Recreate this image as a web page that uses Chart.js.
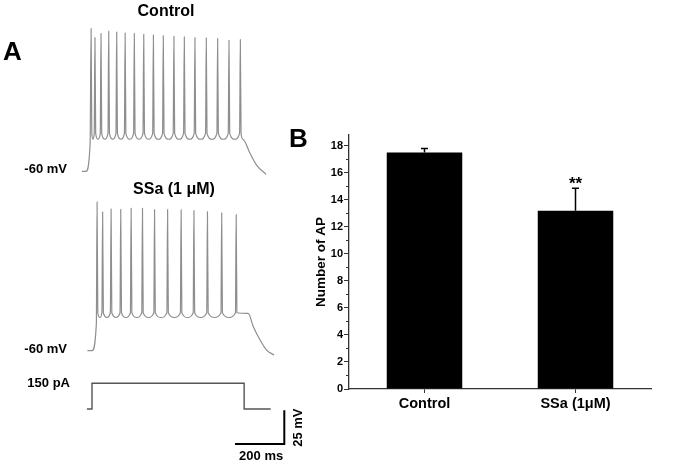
<!DOCTYPE html>
<html>
<head>
<meta charset="utf-8">
<script src="https://cdn.jsdelivr.net/npm/chart.js@4.4.1/dist/chart.umd.min.js"></script>
<style>
  html, body { margin: 0; padding: 0; background: #fff; }
  #wrap { position: relative; width: 675px; height: 463px; overflow: hidden; }
  #traceChart { position: absolute; left: 0; top: 0; }
  #barChart { position: absolute; left: 290px; top: 120px; }
</style>
</head>
<body>
<div id="wrap">
  <canvas id="traceChart" width="310" height="463"></canvas>
  <canvas id="barChart" width="385" height="343"></canvas>
</div>
<script>
// ---------- Panel B: number of action potentials ----------
const groups = ['Control', 'SSa (1μM)'];
const apMean = [17.5, 13.2];
const apSem = [0.3, 1.65];
const apSig = ['', '**'];
const apTicks = [0, 2, 4, 6, 8, 10, 12, 14, 16, 18];

// ---------- Panel A: current-clamp traces (ms from step onset, mV) ----------
const controlOnsetT = [-17, 0, 17];
const controlOnsetV = [-60, -60, -39];
const controlSpikeT = [21, 37, 62, 94, 127, 162, 200, 239, 279, 320, 364, 407, 451, 498, 545, 592, 639];
const controlSpikeV = [49.1, 42.2, 45.3, 47.0, 46.5, 45.7, 45.3, 44.7, 44.2, 43.6, 43.2, 42.7, 42.2, 41.9, 41.5, 40.2, 40.7];
const controlAhp = -35.5;
const controlTailT = [650, 679, 707, 745];
const controlTailV = [-35.5, -46.2, -55.4, -62.3];

const ssaOnsetT = [-19, 0, 18];
const ssaOnsetV = [-60, -60, -39.5];
const ssaSpikeT = [21, 44, 79, 119, 162, 209, 259, 313, 369, 422, 478, 537, 597];
const ssaSpikeV = [53.7, 46.0, 48.3, 48.0, 48.9, 48.9, 47.8, 48.0, 47.6, 47.2, 46.3, 45.3, 44.0];
const ssaAhp = -34.6;
const ssaTailT = [647, 668, 696, 723, 754];
const ssaTailV = [-31.4, -41.7, -51.8, -59.5, -63.3];

const spikeFoot = -31;

// injected current step (ms, pA)
const stimT = [-21, 0, 0, 630, 630, 740];
const stimI = [0, 0, 150, 150, 0, 0];

// scale bars
const barMs = 200;
const barMv = 25;

const FONT = "'Liberation Sans', Arial, Helvetica, sans-serif";
Chart.defaults.font.family = FONT;

// ---- layout of panel A (pixels of the figure) ----
const PX_PER_MS = 0.2415;
const PX_PER_MV = 1.308;
const PX_PER_PA = 0.1713;
const ONSET_PX = 92;          // stimulus onset
const CONTROL_SHIFT = -24.8;  // control trace drawn a little earlier
const H = 463, W = 310;
const ctrlBasePx = 171.3, ssaBasePx = 350.7, stimZeroPx = 409;

function mvRange(basePx) {
  const max = -60 + basePx / PX_PER_MV;
  return { min: max - H / PX_PER_MV, max: max };
}

function buildTrace(onT, onV, spT, spV, ahp, tailT, tailV, shift) {
  const pts = [];
  onT.forEach((t, i) => pts.push({ x: t + shift, y: onV[i] }));
  spT.forEach((t, i) => {
    if (i > 0) {
      pts.push({ x: (spT[i - 1] + t) / 2 + shift, y: ahp });
      pts.push({ x: t - 3 + shift, y: spikeFoot });
    }
    pts.push({ x: t + shift, y: spV[i] });
    pts.push({ x: t + 3 + shift, y: spikeFoot });
  });
  tailT.forEach((t, i) => pts.push({ x: t + shift, y: tailV[i] }));
  return pts;
}

const controlPts = buildTrace(controlOnsetT, controlOnsetV, controlSpikeT, controlSpikeV,
  controlAhp, controlTailT, controlTailV, CONTROL_SHIFT);
const ssaPts = buildTrace(ssaOnsetT, ssaOnsetV, ssaSpikeT, ssaSpikeV,
  ssaAhp, ssaTailT, ssaTailV, 0);
const stimPts = stimT.map((t, i) => ({ x: t, y: stimI[i] }));

// scale bar corner (figure px 284, 444) in trace units
const sbT = (284.3 - ONSET_PX) / PX_PER_MS;
const sbV = -60 - (444 - ssaBasePx) / PX_PER_MV;
const scaleBarPts = [
  { x: sbT - barMs, y: sbV },
  { x: sbT, y: sbV },
  { x: sbT, y: sbV + barMv }
];

const traceText = {
  id: 'traceText',
  afterDraw(chart) {
    const { ctx, scales } = chart;
    ctx.save();
    ctx.fillStyle = '#000';
    ctx.textBaseline = 'alphabetic';

    ctx.font = 'bold 26px ' + FONT;
    ctx.textAlign = 'left';
    ctx.fillText('A', 3, 60);

    ctx.font = 'bold 16px ' + FONT;
    ctx.textAlign = 'center';
    ctx.fillText('Control', 166, 16);
    ctx.fillText('SSa (1 μM)', 174, 194);

    ctx.font = 'bold 13px ' + FONT;
    ctx.textAlign = 'right';
    ctx.fillText('-60 mV', 67, scales.yC.getPixelForValue(-60) + 2);
    ctx.fillText('-60 mV', 67, scales.yS.getPixelForValue(-60) + 2);
    ctx.fillText('150 pA', 70, scales.yI.getPixelForValue(150) + 4);

    const bx0 = scales.x.getPixelForValue(sbT - barMs);
    const bx1 = scales.x.getPixelForValue(sbT);
    const by0 = scales.yS.getPixelForValue(sbV);
    const by1 = scales.yS.getPixelForValue(sbV + barMv);
    ctx.textAlign = 'center';
    ctx.fillText(barMs + ' ms', (bx0 + bx1) / 2 + 1, by0 + 16);

    ctx.translate(bx1 + 14, (by0 + by1) / 2);
    ctx.rotate(-Math.PI / 2);
    ctx.textBaseline = 'middle';
    ctx.fillText(barMv + ' mV', 0, 0);
    ctx.restore();
  }
};

const cr = mvRange(ctrlBasePx);
const sr = mvRange(ssaBasePx);
const iMax = stimZeroPx / PX_PER_PA;

new Chart(document.getElementById('traceChart'), {
  type: 'line',
  data: {
    datasets: [
      { data: controlPts, yAxisID: 'yC', borderColor: '#8e8e8e', borderWidth: 1.2,
        cubicInterpolationMode: 'monotone' },
      { data: ssaPts, yAxisID: 'yS', borderColor: '#8e8e8e', borderWidth: 1.2,
        cubicInterpolationMode: 'monotone' },
      { data: stimPts, yAxisID: 'yI', borderColor: '#555', borderWidth: 1.4, tension: 0 },
      { data: scaleBarPts, yAxisID: 'yS', borderColor: '#000', borderWidth: 2, tension: 0,
        borderCapStyle: 'square' }
    ]
  },
  options: {
    responsive: false,
    animation: false,
    events: [],
    layout: { padding: 0 },
    elements: { point: { radius: 0 } },
    plugins: { legend: { display: false }, tooltip: { enabled: false } },
    scales: {
      x: { type: 'linear', display: false,
           min: -ONSET_PX / PX_PER_MS, max: (W - ONSET_PX) / PX_PER_MS },
      yC: { display: false, min: cr.min, max: cr.max },
      yS: { display: false, min: sr.min, max: sr.max },
      yI: { display: false, min: iMax - H / PX_PER_PA, max: iMax }
    }
  },
  plugins: [traceText]
});

// ---------- Panel B chart ----------
const errorBars = {
  id: 'errorBars',
  afterDatasetsDraw(chart) {
    const { ctx, scales } = chart;
    const meta = chart.getDatasetMeta(0);
    ctx.save();
    ctx.strokeStyle = '#000';
    ctx.fillStyle = '#000';
    ctx.lineWidth = 1.5;
    meta.data.forEach((bar, i) => {
      const yTop = scales.y.getPixelForValue(apMean[i] + apSem[i]);
      ctx.beginPath();
      ctx.moveTo(bar.x, bar.y);
      ctx.lineTo(bar.x, yTop);
      ctx.moveTo(bar.x - 3.5, yTop);
      ctx.lineTo(bar.x + 3.5, yTop);
      ctx.stroke();
      if (apSig[i]) {
        ctx.font = 'bold 17px ' + FONT;
        ctx.textAlign = 'center';
        ctx.textBaseline = 'alphabetic';
        ctx.fillText(apSig[i], bar.x, yTop + 1);
      }
    });
    // minor ticks on the y axis
    const y = scales.y;
    ctx.lineWidth = 1;
    ctx.strokeStyle = '#333';
    for (let v = 1; v < 18; v += 2) {
      const py = Math.round(y.getPixelForValue(v)) + 0.5;
      ctx.beginPath();
      ctx.moveTo(y.right, py);
      ctx.lineTo(y.right - 3, py);
      ctx.stroke();
    }
    ctx.font = 'bold 26px ' + FONT;
    ctx.textAlign = 'left';
    ctx.fillText('B', -1, 27);
    ctx.restore();
  }
};

new Chart(document.getElementById('barChart'), {
  type: 'bar',
  data: {
    labels: groups,
    datasets: [{
      data: apMean,
      backgroundColor: '#000',
      borderWidth: 0,
      barPercentage: 0.5,
      categoryPercentage: 1
    }]
  },
  options: {
    responsive: false,
    animation: false,
    events: [],
    layout: { padding: { left: 19.6, right: 24, top: 15, bottom: 0 } },
    plugins: { legend: { display: false }, tooltip: { enabled: false } },
    scales: {
      x: {
        grid: { drawOnChartArea: false, offset: false, tickLength: 4, color: '#333' },
        border: { color: '#333', width: 1.3 },
        ticks: { color: '#000', padding: 2, font: { size: 14.5, weight: 'bold' } },
        afterFit: s => { s.height = 74; }
      },
      y: {
        min: 0,
        max: 18.8,
        afterBuildTicks: s => { s.ticks = apTicks.map(v => ({ value: v })); },
        grid: { drawOnChartArea: false, tickLength: 5, color: '#333' },
        border: { color: '#333', width: 1.3 },
        ticks: { color: '#000', padding: 1, font: { size: 11, weight: 'bold' } },
        title: { display: true, text: 'Number of AP', color: '#000',
                 padding: { top: 4, bottom: 4 }, font: { size: 13.5, weight: 'bold' } },
        afterFit: s => { s.width = 39.4; }
      }
    }
  },
  plugins: [errorBars]
});
</script>
</body>
</html>
